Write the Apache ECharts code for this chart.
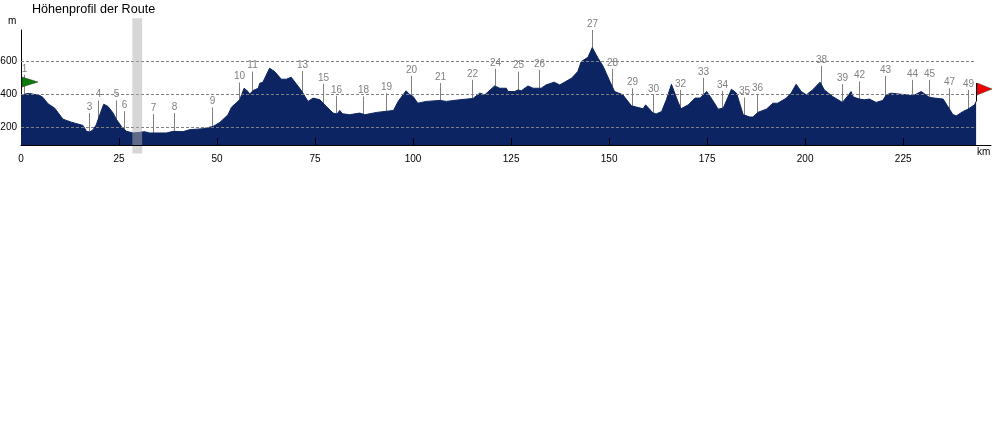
<!DOCTYPE html>
<html>
<head>
<meta charset="utf-8">
<style>
html, body { margin: 0; padding: 0; background: #fff; }
#chart { width: 993px; height: 432px; }
</style>
<script src="https://cdn.jsdelivr.net/npm/echarts@6/dist/echarts.min.js"></script>
</head>
<body>
<div id="chart"></div>
<script>
// profile
const profileKm = [0,1.4,2.2,4.8,5.6,6.9,8.6,10.7,12.8,15.8,16.7,17.5,18.4,19.2,20.1,21.1,22.2,23.5,24.3,25.6,26.9,28.6,30.3,31.5,32.8,37.1,38.8,41.3,43,46.4,49,50.7,52.8,53.7,55.8,56.9,57.9,
  58.3,59.2,60.5,60.9,61.7,63.4,64.7,66.4,67.7,68.9,70.2,71.5,73.2,74.5,76.2,77.9,79.6,80.6,81.3,82,83.8,86.4,87.7,90.7,95,96.2,98.2,99.2,100,101.2,103.4,106.9,108.5,111.9,115.3,117,118.3,120.8,122.1,
  123.8,124.2,125.9,126.8,127.6,129.3,130.6,132.7,133.9,136,137.4,140.4,142,142.9,144.6,145.7,147.2,148.5,150.2,151.4,153.5,155.7,158.7,159.3,161.2,162,163.4,164.6,165.9,167.2,168.3,170.2,171.9,173.2,174.9,176.6,177.8,179.1,181.2,182.5,184.2,185.9,
  186.7,187.9,190.1,191.8,193,195.2,196.4,197.7,199,200.3,201.9,203.8,204.9,207,209.5,211.1,211.7,212.3,213.9,215.2,216.4,218.1,219.8,220.7,221.9,225.8,227.5,229.6,231.7,235.2,236.4,237.7,238.6,240.3,241.5,243.2,243.6]
const profileM = [386,404,404,392,380,341,315,248,230,210,174,170,184,214,275,339,325,285,248,204,174,164,168,172,164,164,174,172,184,190,204,228,275,321,366,436,416,
  400,422,436,466,473,558,537,491,491,503,463,422,356,376,366,325,285,279,301,281,275,285,275,289,301,356,420,396,386,345,356,362,356,366,374,406,396,450,436,
  436,416,416,426,420,450,436,436,456,473,456,497,537,598,624,683,618,568,477,416,396,329,311,335,285,279,295,366,460,376,311,335,376,376,416,356,309,315,430,406,275,261,
  261,289,309,345,345,376,406,460,416,396,426,473,426,386,350,396,416,382,370,366,370,350,362,396,406,396,390,416,380,370,325,275,269,295,309,335,356]

// numbered waypoints: label, km, top of the leader line in m
const wpLabels = ['1','3','4','5','6','7','8','9','10','11','13','15','16','18','19','20','21','22','24','25','26','27','28','29','30','32','33','34','35','36','38','39','42','43','44','45','47','49']
const wpKm = [0.8,17.3,19.6,24.2,26.3,33.7,38.9,48.7,55.6,58.9,71.7,77,80.4,87.2,93.1,99.5,106.9,115,121,126.8,132.1,145.7,150.8,155.9,161.2,168.1,174,178.8,184.5,187.8,204.1,209.5,213.8,220.4,227.3,231.6,236.8,241.6]
const wpTop = [517,285,362,362,297,279,285,319,471,537,541,463,390,386,406,511,467,487,554,537,547,790,554,436,396,426,499,420,380,400,572,461,477,511,487,487,436,426]

const gridLevels = [200, 400, 600]
const yLabels = [200, 400, 600]
const xLabels = [0, 25, 50, 75, 100, 125, 150, 175, 200, 225]
const xTicks = [25, 50, 75, 100, 125, 150, 175, 200, 225]
const routeEnd = 243.6
// grey marker band, km and m
const bandKm = [28.4, 30.9]
const bandM = [40, 862]

const navy = '#0c2461'
const grey = '#808080'

const chart = echarts.init(document.getElementById('chart'), null, { renderer: 'canvas' })

chart.setOption({
  animation: false,
  backgroundColor: '#fff',
  textStyle: { fontFamily: 'Liberation Sans, Arial, sans-serif' },
  title: {
    text: 'Höhenprofil der Route', left: 32, top: 3, padding: 0,
    textStyle: { fontSize: 12.6, fontWeight: 'normal', color: '#000' }
  },
  graphic: [
    { type: 'text', left: 8, top: 16, style: { text: 'm', fill: '#000', font: '10px Liberation Sans' } },
    { type: 'text', left: 977, top: 147, style: { text: 'km', fill: '#000', font: '10px Liberation Sans' } }
  ],
  grid: { left: 21, top: 30, width: 970, height: 115, containLabel: false, outerBoundsMode: 'none' },
  xAxis: {
    type: 'value', min: 0, max: 247.4,
    z: 6,
    axisLine: { show: true, lineStyle: { color: '#000', width: 1 } },
    axisTick: { show: true, inside: true, length: 7, lineStyle: { color: '#000' }, customValues: xTicks },
    axisLabel: { color: '#000', fontSize: 10, margin: 9, customValues: xLabels, formatter: v => String(v) },
    splitLine: { show: false }
  },
  yAxis: {
    type: 'value', min: 91, max: 790,
    axisLine: { show: true, lineStyle: { color: '#000', width: 1 } },
    axisTick: { show: false },
    axisLabel: { color: '#000', fontSize: 10, margin: 4, customValues: yLabels, formatter: v => String(v) },
    splitLine: { show: false }
  },
  series: [
    {
      // leader lines and numbers, the profile covers their lower end
      type: 'custom', z: 1, clip: false,
      data: wpKm.map((km, i) => [km, wpTop[i], wpLabels[i]]),
      encode: { x: 0, y: 1 },
      renderItem(params, api) {
        const top = api.coord([api.value(0), api.value(1)])
        const bot = api.coord([api.value(0), 91])
        const x = Math.round(top[0]) + 0.5
        return {
          type: 'group',
          children: [
            { type: 'line', shape: { x1: x, y1: top[1], x2: x, y2: bot[1] }, style: { stroke: grey, lineWidth: 1 } },
            { type: 'text', style: { x: x, y: top[1] - 1, text: wpLabels[params.dataIndex], fill: grey, align: 'center', verticalAlign: 'bottom', font: '10px Liberation Sans' } }
          ]
        }
      }
    },
    {
      type: 'line', z: 2, symbol: 'none', smooth: false,
      data: profileKm.map((km, i) => [km, profileM[i]]),
      lineStyle: { color: navy, width: 1 },
      areaStyle: { color: navy, opacity: 1 }
    },
    {
      // dashed levels sit on top of the profile
      type: 'custom', z: 3, clip: false,
      data: gridLevels.map(v => [0, v]),
      encode: { x: 0, y: 1 },
      renderItem(params, api) {
        const a = api.coord([0, api.value(1)])
        const b = api.coord([routeEnd, api.value(1)])
        const y = Math.round(a[1]) + 0.5
        return { type: 'line', shape: { x1: a[0], y1: y, x2: b[0], y2: y }, style: { stroke: '#808080', lineWidth: 1, lineDash: [3, 2] } }
      }
    },
    {
      // grey band, reaches past the axes
      type: 'custom', z: 4, clip: false,
      data: [[bandKm[0], bandM[0], bandKm[1], bandM[1]]],
      encode: { x: [0, 2], y: [1, 3] },
      renderItem(params, api) {
        const a = api.coord([api.value(0), api.value(1)])
        const b = api.coord([api.value(2), api.value(3)])
        return { type: 'rect', shape: { x: a[0], y: b[1], width: b[0] - a[0], height: a[1] - b[1] }, style: { fill: 'rgba(176,176,176,0.5)' } }
      }
    },
    {
      // start and finish flags
      type: 'custom', z: 5, clip: false,
      data: [[0, 404, 0], [routeEnd, 356, 1]],
      encode: { x: 0, y: 1 },
      renderItem(params, api) {
        const p = api.coord([api.value(0), api.value(1)])
        const red = api.value(2) === 1
        const x = Math.round(p[0])
        const poleTop = red ? 83 : 75
        const top = red ? 83 : 77
        const len = red ? 15 : 16
        const h = red ? 12 : 10
        return {
          type: 'group',
          children: [
            { type: 'line', shape: { x1: x + 0.5, y1: poleTop, x2: x + 0.5, y2: p[1] }, style: { stroke: '#000', lineWidth: 1 } },
            { type: 'polygon', shape: { points: [[x + 1, top], [x + 1 + len, top + h / 2], [x + 1, top + h]] }, style: { fill: red ? '#f00000' : '#0a7a0a', stroke: '#333', lineWidth: 0.5 } }
          ]
        }
      }
    }
  ]
})
</script>
</body>
</html>
